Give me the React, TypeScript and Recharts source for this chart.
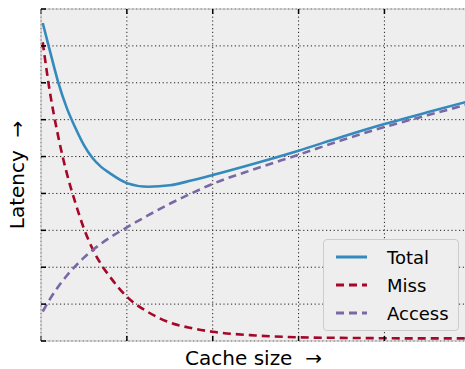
import React from 'react';
import { LineChart, Line, XAxis, YAxis, CartesianGrid } from 'recharts';

// cache size (arbitrary units) and the three latency curves
const cacheSize = [0.02, 0.1, 0.2, 0.3, 0.4, 0.5, 0.6, 0.7, 0.8, 1.0, 1.25, 1.5, 1.75, 2.0, 2.5, 3.0, 3.5, 4.0, 4.5, 4.95];
const totalLatency = [8.62, 7.9, 7.02, 6.32, 5.78, 5.31, 4.96, 4.72, 4.55, 4.28, 4.18, 4.22, 4.35, 4.5, 4.82, 5.16, 5.53, 5.88, 6.2, 6.48];
const missLatency = [8.1, 6.8, 5.55, 4.55, 3.75, 3.05, 2.5, 2.08, 1.75, 1.2, 0.78, 0.5, 0.35, 0.25, 0.15, 0.1, 0.085, 0.075, 0.07, 0.07];
const accessLatency = [0.8, 1.12, 1.47, 1.77, 2.03, 2.26, 2.46, 2.64, 2.8, 3.08, 3.41, 3.72, 4.0, 4.26, 4.67, 5.05, 5.44, 5.8, 6.12, 6.4];

const xTicks = [0, 1, 2, 3, 4];
const yTicks = [0, 1, 2, 3, 4, 5, 6, 7, 8, 9];

const data = cacheSize.map((x, i) => ({
  x,
  total: totalLatency[i],
  miss: missLatency[i],
  access: accessLatency[i],
}));

const FONT = 'DejaVu Sans';

const series = [
  { key: 'total', name: 'Total', color: '#348ABD', dash: undefined as string | undefined },
  { key: 'miss', name: 'Miss', color: '#A60628', dash: '8 5' },
  { key: 'access', name: 'Access', color: '#7A68A6', dash: '8 5' },
];

const LegendBox = () => (
  <div
    style={{
      position: 'absolute',
      left: 323,
      top: 239,
      width: 136,
      height: 92,
      boxSizing: 'border-box',
      border: '1px solid #cccccc',
      borderRadius: 4,
      background: '#eeeeee',
      paddingTop: 3,
      fontFamily: FONT,
    }}
  >
    {series.map((s) => (
      <div key={s.key} style={{ display: 'flex', alignItems: 'center', height: 28 }}>
        <svg width={60} height={28} style={{ display: 'block' }}>
          <line x1={12} x2={43} y1={14} y2={14} stroke={s.color} strokeWidth={3} strokeDasharray={s.dash} />
        </svg>
        <span style={{ fontSize: 18, color: '#000', marginLeft: 3 }}>{s.name}</span>
      </div>
    ))}
  </div>
);

// ticks are drawn as inward marks only, without labels
const noLabel = () => <g />;
const tickStyle = { stroke: '#000', strokeWidth: 1.5 };

export default function App() {
  return (
    <div style={{ position: 'absolute', left: 0, top: 0, width: 465, height: 369, background: '#fff', overflow: 'hidden' }}>
      <LineChart width={466} height={369} data={data} margin={{ top: 9, right: 0, bottom: 28, left: 41 }}>
        <CartesianGrid fill="#eeeeee" stroke="#222" strokeDasharray="1.2 2.6" strokeWidth={1} />
        <XAxis
          dataKey="x"
          type="number"
          domain={[0, 4.95]}
          ticks={xTicks}
          allowDataOverflow
          height={1}
          mirror
          tick={noLabel}
          tickSize={5}
          tickLine={tickStyle}
          axisLine={{ stroke: '#bcbcbc' }}
          label={{ value: 'Cache size\u00a0\u00a0\u2192', position: 'bottom', offset: 10, fontSize: 20, fontFamily: FONT, fill: '#000' }}
        />
        <XAxis
          xAxisId="top"
          dataKey="x"
          type="number"
          orientation="top"
          domain={[0, 4.95]}
          ticks={xTicks}
          allowDataOverflow
          height={1}
          mirror
          tick={noLabel}
          tickSize={5}
          tickLine={tickStyle}
          axisLine={{ stroke: '#bcbcbc' }}
        />
        <YAxis
          type="number"
          domain={[0, 9]}
          ticks={yTicks}
          allowDataOverflow
          width={1}
          mirror
          tick={noLabel}
          tickSize={5}
          tickLine={tickStyle}
          axisLine={{ stroke: '#bcbcbc' }}
          label={{
            value: 'Latency\u00a0\u00a0\u2192',
            angle: -90,
            position: 'left',
            offset: 24,
            fontSize: 20,
            fontFamily: FONT,
            fill: '#000',
            style: { textAnchor: 'middle' },
          }}
        />
        <YAxis
          yAxisId="right"
          type="number"
          orientation="right"
          domain={[0, 9]}
          ticks={yTicks}
          width={1}
          mirror
          tick={noLabel}
          tickSize={5}
          tickLine={tickStyle}
          axisLine={false}
        />
        {series.map((s) => (
          <Line
            key={s.key}
            type="monotone"
            dataKey={s.key}
            name={s.name}
            stroke={s.color}
            strokeWidth={2.6}
            strokeDasharray={s.dash}
            dot={false}
            activeDot={false}
            isAnimationActive={false}
          />
        ))}
      </LineChart>
      <LegendBox />
    </div>
  );
}
